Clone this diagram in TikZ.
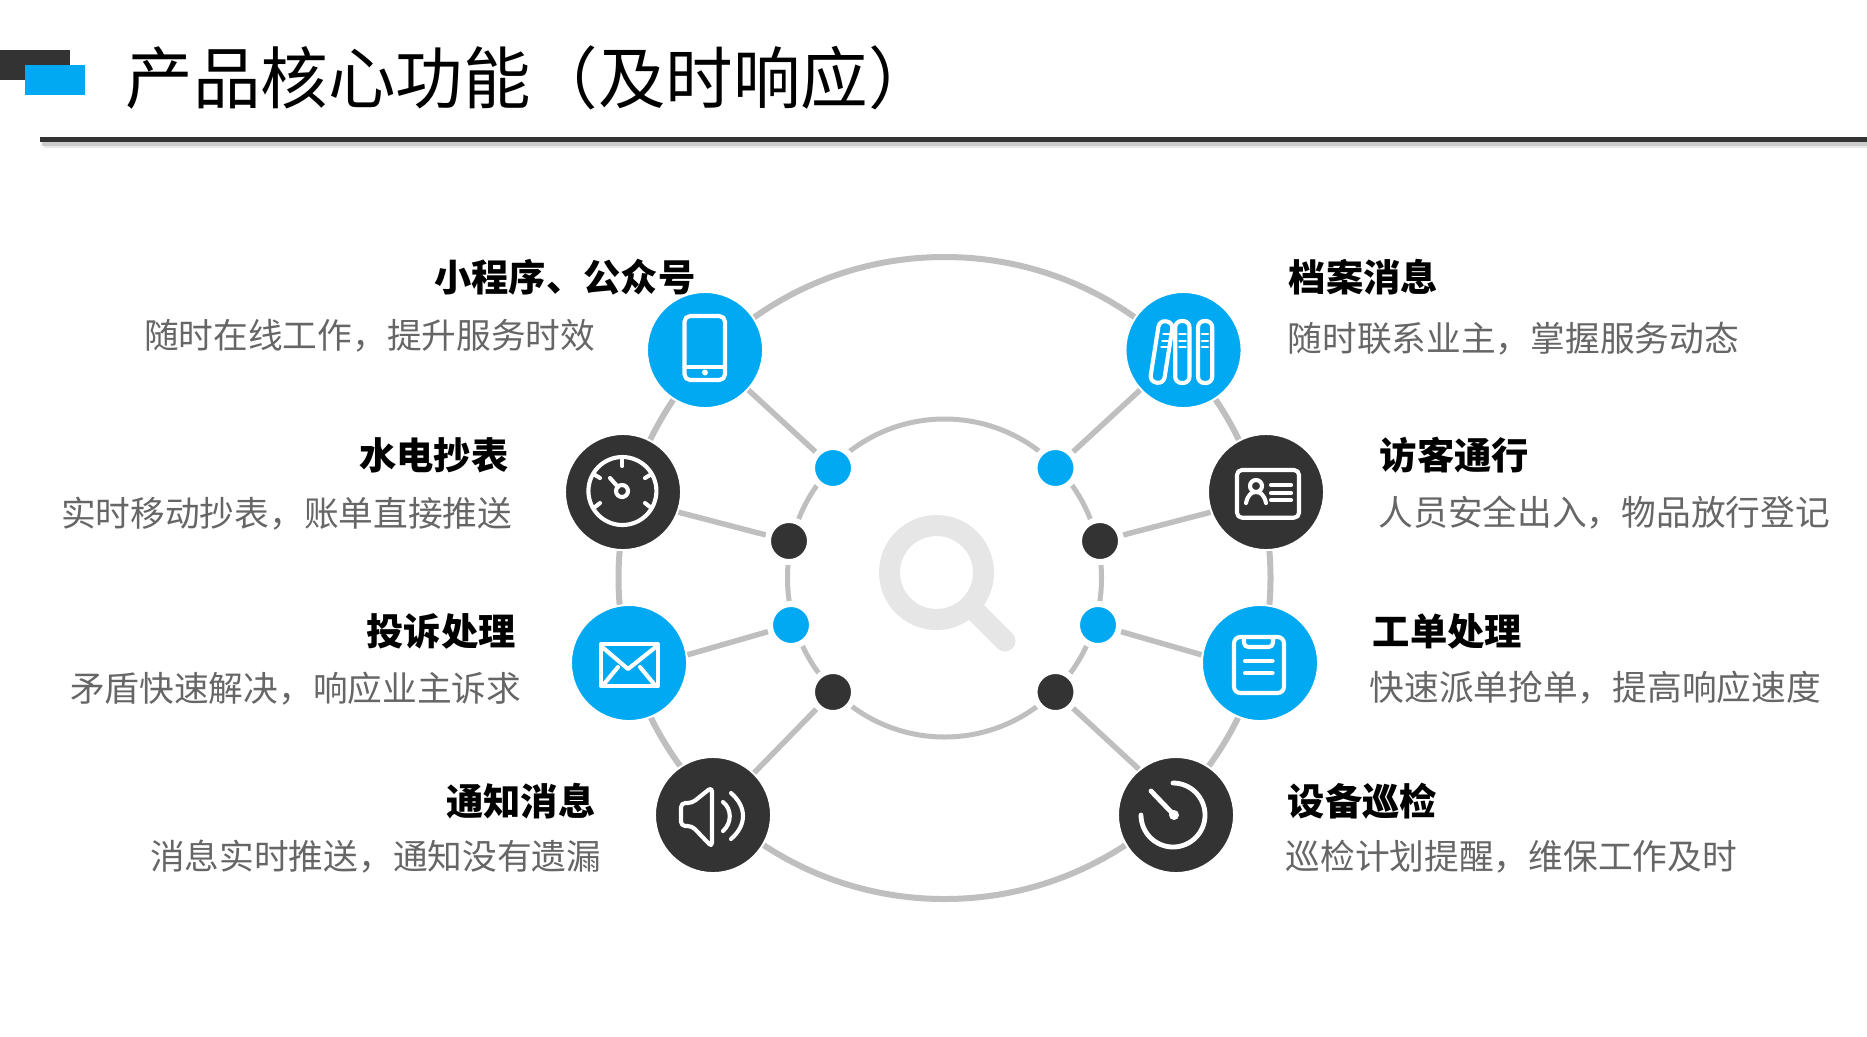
\documentclass[tikz,border=0pt]{standalone}
\usepackage{fontspec}
\setmainfont{Noto Sans CJK SC}
\definecolor{inkdark}{HTML}{333333}
\definecolor{skyblue}{HTML}{00A9F1}
\definecolor{ringgray}{HTML}{BFBFBF}
\definecolor{lensgray}{HTML}{E6E6E6}
\definecolor{bodygray}{HTML}{666666}
\tikzset{
  bigblue/.style={circle, fill=skyblue, draw=white, line width=0.02cm, minimum size=1.16cm, inner sep=0},
  bigdark/.style={bigblue, fill=inkdark},
  dotblue/.style={circle, fill=skyblue, draw=white, line width=0.06cm, minimum size=0.42cm, inner sep=0},
  dotdark/.style={dotblue, fill=inkdark},
  link/.style={ringgray, line width=0.055cm},
  iconline/.style={white, line width=0.041cm, line cap=round, line join=round},
  headtext/.style={inner sep=0, font=\fontsize{10.6}{12}\selectfont\bfseries},
  bodytext/.style={inner sep=0, text=bodygray, font=\fontsize{9.87}{12}\selectfont},
}
\begin{document}
\begin{tikzpicture}[x=0.01cm, y=-0.01cm]
    \useasboundingbox (0,0) rectangle (1867,1036);
    % Title bar
    \fill[inkdark] (0,50) rectangle (70,80);
    \fill[skyblue] (25,65) rectangle (85,95);
    \node[anchor=west, inner sep=0, font=\fontsize{19.2}{24}\selectfont] (title) at (125,78) {产品核心功能（及时响应）};
    \coordinate (ruleleft) at (40,139.5);
    \coordinate (ruleright) at (1867,139.5);
    \coordinate (shadeleft) at (42,143.5);
    \coordinate (shaderight) at (1867,143.5);
    \coordinate (fadeleft) at (44,146);
    \coordinate (faderight) at (1867,146);
    \draw[ringgray!35, line width=0.03cm] (fadeleft) -- (faderight);
    \draw[ringgray!80, line width=0.04cm] (shadeleft) -- (shaderight);
    \draw[inkdark, line width=0.055cm] (ruleleft) -- (ruleright);
    % Rings
    \coordinate (hub) at (944.5,578);
    \draw[ringgray, line width=0.06cm] (hub) ellipse (326 and 321);
    \draw[ringgray, line width=0.05cm] (hub) ellipse (157 and 159);
    % Magnifier
    \coordinate (lens) at (936.5,572.5);
    \coordinate (grip) at (1005,641);
    \coordinate (gripstart) at (973,609);
    \draw[lensgray, line width=0.21cm] (lens) circle (47);
    \draw[lensgray, line width=0.21cm, line cap=round] (gripstart) -- (grip);
    % Big circles
    \node[bigblue] (phone) at (705,350) {};
    \node[bigblue] (books) at (1183.5,350) {};
    \node[bigdark] (gauge) at (623,492) {};
    \node[bigdark] (card) at (1266,492) {};
    \node[bigblue] (mail) at (629,663) {};
    \node[bigblue] (clip) at (1260,663) {};
    \node[bigdark] (speaker) at (713,815) {};
    \node[bigdark] (timer) at (1176,815) {};
    % Small dots
    \node[dotblue] (dotphone) at (833,468) {};
    \node[dotblue] (dotbooks) at (1055.5,468) {};
    \node[dotdark] (dotgauge) at (789,541) {};
    \node[dotdark] (dotcard) at (1100,541) {};
    \node[dotblue] (dotmail) at (791,625) {};
    \node[dotblue] (dotclip) at (1098,625) {};
    \node[dotdark] (dotspeaker) at (833,692) {};
    \node[dotdark] (dottimer) at (1055.5,692) {};
    % Spokes
    \draw[link] (phone) -- (dotphone);
    \draw[link] (books) -- (dotbooks);
    \draw[link] (gauge.-20) -- (dotgauge);
    \draw[link] (card.200) -- (dotcard);
    \draw[link] (mail.8) -- (dotmail);
    \draw[link] (clip.172) -- (dotclip);
    \draw[link] (speaker) -- (dotspeaker);
    \draw[link] (timer.129) -- (dottimer);
    % Icon phone
    \begin{scope}[shift={(phone)}, iconline]
      \draw[rounded corners=1.6pt] (-20.5,-34) rectangle (20,30);
      \draw (-20.5,17) -- (20,17);
      \fill (0,22.5) circle (3);
    \end{scope}
    % Icon books
    \begin{scope}[shift={(books)}, iconline]
      \draw[rounded corners=1.8pt] (14.5,-29) rectangle (28.7,33);
      \draw[rounded corners=1.8pt] (-8.3,-29) rectangle (6,33);
      \draw[rounded corners=1.8pt, rotate around={-9:(-22,2)}] (-29,-29) rectangle (-15,33);
      \draw[line width=0.028cm] (18.5,-16) -- (24.5,-16) (18.5,-9) -- (24.5,-9) (18.5,-3) -- (24.5,-3);
      \draw[line width=0.028cm] (-4,-16) -- (2,-16) (-4,-9) -- (2,-9) (-4,-3) -- (2,-3);
      \draw[line width=0.028cm] (-20,-16) -- (-14,-16) (-21,-9) -- (-15,-9) (-22,-3) -- (-16,-3);
    \end{scope}
    % Icon gauge
    \begin{scope}[shift={(gauge)}, iconline]
      \draw (-0.6,-1) circle (34);
      \draw (-0.6,-35) -- (-0.6,-26);
      \draw (-28,-17) -- (-23,-14) (27,-17) -- (22,-14);
      \draw (-28,15) -- (-23,11) (27,15) -- (22,11);
      \draw (-1,-1) circle (6);
      \draw (-5,-5) -- (-13,-14);
    \end{scope}
    % Icon card
    \begin{scope}[shift={(card)}, iconline]
      \draw[rounded corners=1.4pt] (-29,-22) rectangle (33,25.7);
      \draw (-10,-6) circle (6);
      \draw (-20,11) .. controls (-18,2) and (-14,0) .. (-10,0) .. controls (-6,0) and (-2,2) .. (0,11);
      \draw (5,-7) -- (25,-7) (5,1) -- (25,1) (5,8) -- (25,8);
    \end{scope}
    % Icon mail
    \begin{scope}[shift={(mail)}, iconline]
      \draw (-28,-19) rectangle (29,23);
      \draw (-28,-17) -- (-1,6) -- (28,-17);
      \draw (-25,21) -- (-11,4) (25,21) -- (11,4);
    \end{scope}
    % Icon clipboard
    \begin{scope}[shift={(clip)}, iconline]
      \draw[rounded corners=1.8pt] (-26,-26) rectangle (24,30);
      \draw[rounded corners=1.2pt] (-16,-26) -- (-16,-16) -- (13,-16) -- (13,-26);
      \draw (-15,-2) -- (12.6,-2) (-15,10) -- (12.6,10);
    \end{scope}
    % Icon speaker
    \begin{scope}[shift={(speaker)}, iconline]
      \draw[rounded corners=1.2pt] (-1,-28) -- (-21,-12) -- (-32,-12) -- (-32,11) -- (-21,11) -- (-1,32) -- cycle;
      \draw (10,-13) .. controls (19,-6) and (19,8) .. (10,16);
      \draw (18,-22) .. controls (34,-8) and (34,10) .. (18,24);
    \end{scope}
    % Icon timer
    \begin{scope}[shift={(timer)}, iconline]
      \draw[line width=0.048cm] (-3,-32) arc[start angle=-90, end angle=180, radius=32];
      \draw[line width=0.048cm] (-25,-24) -- (-2,0);
      \fill (-2,0) circle (5);
    \end{scope}
    % Left labels
    \node[headtext, anchor=east] (headphone) at (696,277) {小程序、公众号};
    \node[bodytext, anchor=east] (bodyphone) at (596,336) {随时在线工作，提升服务时效};
    \node[headtext, anchor=east] (headgauge) at (509,455) {水电抄表};
    \node[bodytext, anchor=east] (bodygauge) at (513,514) {实时移动抄表，账单直接推送};
    \node[headtext, anchor=east] (headmail) at (516.5,631) {投诉处理};
    \node[bodytext, anchor=east] (bodymail) at (522,689) {矛盾快速解决，响应业主诉求};
    \node[headtext, anchor=east] (headspeaker) at (596,801) {通知消息};
    \node[bodytext, anchor=east] (bodyspeaker) at (602,857) {消息实时推送，通知没有遗漏};
    % Right labels
    \node[headtext, anchor=west] (headbooks) at (1288,277) {档案消息};
    \node[bodytext, anchor=west] (bodybooks) at (1287,339) {随时联系业主，掌握服务动态};
    \node[headtext, anchor=west] (headcard) at (1379,455) {访客通行};
    \node[bodytext, anchor=west] (bodycard) at (1378,513) {人员安全出入，物品放行登记};
    \node[headtext, anchor=west] (headclip) at (1372,631) {工单处理};
    \node[bodytext, anchor=west] (bodyclip) at (1369,688) {快速派单抢单，提高响应速度};
    \node[headtext, anchor=west] (headtimer) at (1287,801) {设备巡检};
    \node[bodytext, anchor=west] (bodytimer) at (1285,857) {巡检计划提醒，维保工作及时};
\end{tikzpicture}
\end{document}
